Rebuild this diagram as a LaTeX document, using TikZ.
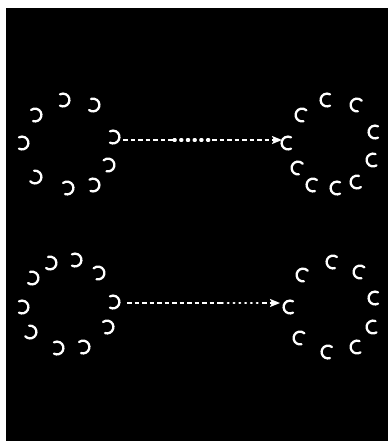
\documentclass[tikz,border=0pt]{standalone}
\usetikzlibrary{arrows.meta,calc}
\tikzset{
  hook/.style={draw=white,line width=2.3pt,line cap=round},
  pics/revc/.style={code={\draw[hook] (118:6.4) arc (118:-118:6.4);}},
  pics/fwdc/.style={code={\draw[hook] (62:6.4) arc (62:298:6.4);}},
  dashline/.style={draw=white,line width=1.6pt,dash pattern=on 4.5pt off 3pt},
  dotline/.style={draw=white,line width=3.2pt,line cap=round,dash pattern=on 1.2pt off 5.5pt},
  tip/.style={-{Stealth[length=10pt,width=8pt,inset=2pt]}}
}
\begin{document}
\begin{tikzpicture}[x=1pt,y=-1pt]
\useasboundingbox (0,0) rectangle (388,441);
\fill[white] (0,0) rectangle (388,441);
\fill[black] (6,8) rectangle (388,441);
% top-left group
\foreach \x/\y/\r in {63/100/0,93/105/-10,35/115/10,113/137/0,22/143/0,108/165/15,35/177/-20,67/188/10,93/185/5}
  \pic[rotate=\r] at (\x,\y) {revc};
% top-right group
\foreach \x/\y/\r in {302/115/-15,327/100/0,357/105/-20,375/132/0,288/143/0,373/160/5,298/168/-20,313/185/-10,337/188/0,357/182/10}
  \pic[rotate=\r] at (\x,\y) {fwdc};
% bottom-left group
\foreach \x/\y/\r in {50/263/-10,75/260/0,98/273/15,32/278/-10,113/302/0,22/307/0,107/327/10,30/332/-20,57/348/0,83/347/10}
  \pic[rotate=\r] at (\x,\y) {revc};
% bottom-right group
\foreach \x/\y/\r in {333/262/-10,303/275/-20,360/272/-15,375/298/0,290/307/0,373/327/5,300/338/-15,328/352/-10,357/347/5}
  \pic[rotate=\r] at (\x,\y) {fwdc};
% arrows
\coordinate (a1s) at (123,140);
\coordinate (a1m) at (174,140);
\coordinate (a1n) at (212,140);
\coordinate (a1e) at (282,140);
\path[dashline] (a1s) -- (a1m);
\path[dotline] (a1m) -- (a1n);
\path[dashline,tip] (a1n) -- (a1e);
\coordinate (a2s) at (127,303);
\coordinate (a2m) at (222,303);
\coordinate (a2n) at (262,303);
\coordinate (a2e) at (280,303);
\path[dashline] (a2s) -- (a2m);
\path[dotline,line width=2.4pt,dash pattern=on 0.8pt off 5pt] (a2m) -- (a2n);
\path[dashline,tip] (a2n) -- (a2e);
\end{tikzpicture}
\end{document}
